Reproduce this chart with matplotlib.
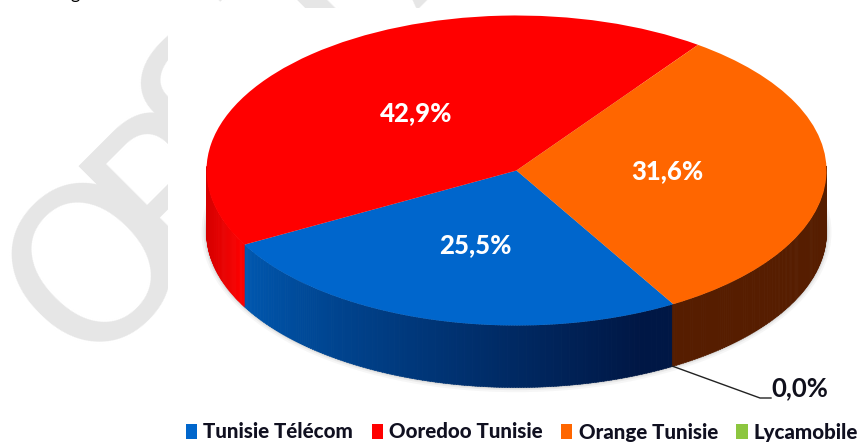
import numpy as np
import matplotlib
matplotlib.use("Agg")
import matplotlib.pyplot as plt
from matplotlib.patches import Patch, Rectangle, Ellipse
from matplotlib.collections import PolyCollection

categories = ["Tunisie Télécom", "Ooredoo Tunisie", "Orange Tunisie", "Lycamobile"]
values = [25.5, 42.9, 31.6, 0.0]
value_labels = ["25,5%", "42,9%", "31,6%", "0,0%"]
colors = ["#0066CC", "#FF0000", "#FF6600", "#8CC63F"]
watermark = "OPSTAT"

W, H = 860, 443
CX, CY, RX, RY, DEPTH = 516.5, 170.5, 310.0, 155.0, 62.0
START = 300.4

plt.rcParams["font.family"] = ["Lato", "DejaVu Sans"]
fig = plt.figure(figsize=(W / 100, H / 100), dpi=100)
ax = fig.add_axes([0, 0, 1, 1])


def px(x, y):
    """pixel position in the reference -> data coordinates"""
    return (x - CX) / RX, (CY - y) / RY


d = DEPTH / RY

# watermark: letters run up and to the right at 45 degrees
anchors = [(84, 369), (169, 277), (222, 194), (320, 100), (415, 10), (510, -80)]
for ch, a in zip(watermark, anchors):
    p = px(*a)
    ax.text(p[0], p[1], ch, rotation=45, rotation_mode="anchor", ha="left", va="baseline",
            fontsize=155, color="#E6E6E6", family="Liberation Sans Narrow", zorder=1)
# white panels hiding most of the watermark
x0, y0 = px(168, H)
x1, y1 = px(W, 8)
ax.add_patch(Rectangle((x0, y0), x1 - x0, y1 - y0, fc="white", ec="none", zorder=2))
x0, y0 = px(0, H)
x1, y1 = px(W, 345)
ax.add_patch(Rectangle((x0, y0), x1 - x0, y1 - y0, fc="white", ec="none", zorder=2))

# soft shadow of the body
for grow, a in ((5, 0.05), (3, 0.08), (1.5, 0.12)):
    ax.add_patch(Ellipse((0, -d + 0.002), 2 + 2 * grow / RX, 2 + 2 * grow / RY,
                         fc="#555555", ec="none", alpha=a, zorder=3))

# side wall, from the values
fr = np.array(values) / sum(values)
edges = START - 360 * np.concatenate([[0], np.cumsum(fr)])
side_polys, side_cols = [], []
for i, v in enumerate(values):
    a0, a1 = edges[i], edges[i + 1]
    if v == 0:
        continue
    for t in np.arange(a0, a1 - 0.25, -0.5):
        t0, t1 = np.deg2rad(t), np.deg2rad(max(t - 0.6, a1))
        if np.sin(t0) > 0.02 and np.sin(t1) > 0.02:
            continue
        xs = [np.cos(t0), np.cos(t1), np.cos(t1), np.cos(t0)]
        ys = [np.sin(t0), np.sin(t1), np.sin(t1) - d, np.sin(t0) - d]
        side_polys.append(list(zip(xs, ys)))
        if i == 0:
            f = (t - a1) / (a0 - a1)
            f = min(1, f * 1.08)
            side_cols.append(tuple(np.array([0, 0.345, 0.69]) * (1 - f) + np.array([0, 0.09, 0.27]) * f))
        elif i == 1:
            f = min(1, abs(np.cos(t0) + 1) / 0.12)
            side_cols.append(tuple(np.array([0.84, 0, 0]) * (1 - f) + np.array([1, 0, 0]) * f))
        else:
            side_cols.append("#561D00")
ax.add_collection(PolyCollection(side_polys, facecolors=side_cols, edgecolors=side_cols, linewidths=0.4, zorder=4))

# top face
wedges, _ = ax.pie(values, colors=colors, startangle=START, counterclock=False, radius=1.0,
                   wedgeprops=dict(linewidth=0))
for w in wedges:
    w.set_zorder(5)

ax.set_aspect("auto")
ax.set_xlim(-CX / RX, (W - CX) / RX)
ax.set_ylim((CY - H) / RY, CY / RY)
ax.axis("off")

# data labels
for lab, p in zip(value_labels[:3], [(475, 245), (416, 113), (667, 171)]):
    ax.text(*px(*p), lab, color="white", fontsize=18.5, fontweight=900, ha="center", va="center", zorder=6)
ax.text(*px(800, 388), value_labels[3], color="#10101C", fontsize=18.5, fontweight=700,
        ha="center", va="center", zorder=6)
lx, ly = zip(px(672, 366), px(760, 398), px(771, 398))
ax.plot(lx, ly, color="#222222", lw=1.0, zorder=6)

# cropped text at the very top
ax.text(*px(75, -1), "g", color="black", fontsize=13, ha="center", va="baseline", zorder=6)

# legend
handles = [Patch(fc=c, ec="none") for c in colors]
ax.legend(handles, categories, ncol=4, loc="center", bbox_to_anchor=(522 / W, 1 - 432 / H),
          bbox_transform=fig.transFigure, frameon=False, prop=dict(family="Lato", weight=900, size=14.8),
          handlelength=0.55, handleheight=0.75, handletextpad=0.3, columnspacing=0.9,
          labelcolor="#101020", borderpad=0, borderaxespad=0)

fig.savefig("out.png", dpi=100)
